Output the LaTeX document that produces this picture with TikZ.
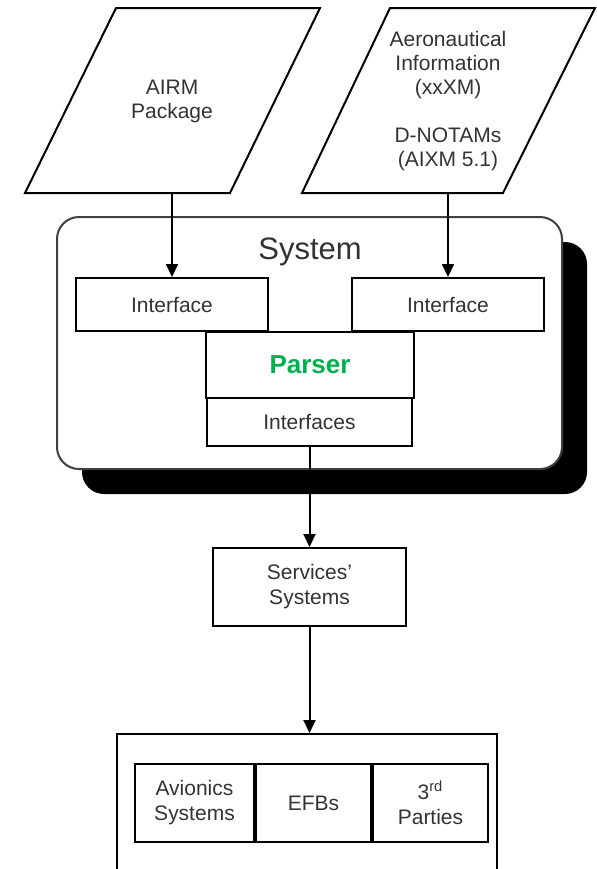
\documentclass[tikz,border=0pt]{standalone}
\usepackage{fontspec}
\setmainfont{Liberation Sans}
\usetikzlibrary{arrows.meta,positioning,shadows}
\definecolor{parsergreen}{RGB}{0,176,80}
\tikzstyle{box} = [draw, line width=1pt, fill=white, text=black!80, align=center, inner sep=0pt, font=\fontsize{10.5}{12.5}\selectfont]
\tikzstyle{txt} = [text=black!80, align=center, font=\fontsize{10.5}{12}\selectfont]
\tikzstyle{arrow} = [-{Triangle[length=6.5pt,width=6pt]}, line width=1pt]

\begin{document}
\begin{tikzpicture}[x=0.5pt,y=-0.5pt]
\clip (0,0) rectangle (597,869);
\fill[white] (0,0) rectangle (597,869);
% input data
\draw[line width=1pt] (25,193) -- (116,8) -- (320,8) -- (230,193) -- cycle;
\draw[line width=1pt] (302,193) -- (390,8) -- (595,8) -- (503,193) -- cycle;
\node[txt] (airm) at (172,101) {AIRM\\Package};
\node[txt] (aero) at (448,101) {Aeronautical\\Information\\(xxXM)\\[12pt]D-NOTAMs\\(AIXM 5.1)};
\coordinate (airm-out) at (172,193);
\coordinate (aero-out) at (448,193);
% system block with its shadow
\node[draw=black!75, line width=1pt, fill=white, rounded corners=11pt, minimum width=252.5pt, minimum height=126pt,
  drop shadow={shadow xshift=12.5pt, shadow yshift=-12.5pt, fill=black, opacity=1}] (system) at (309.5,343) {};
\node[txt, anchor=base, font=\fontsize{15.5}{18}\selectfont] (systitle) at (310,259) {System};
\node[box, minimum width=96pt, minimum height=26.5pt] (ifl) at (172,304.5) {Interface};
\node[box, minimum width=96pt, minimum height=26.5pt] (ifr) at (448,304.5) {Interface};
\node[box, minimum width=104pt, minimum height=33pt, text=parsergreen, font=\bfseries\fontsize{13}{15}\selectfont] (parser) at (310,365) {Parser};
\node[box, minimum width=102.5pt, minimum height=24pt] (ifs) at (309.5,422) {Interfaces};
% services and users
\node[box, minimum width=96.5pt, minimum height=39pt] (svc) at (309.5,587) {Services'\\Systems};
\node[draw, line width=1pt, minimum width=190pt, minimum height=83pt] (users) at (307,817) {};
\node[box, minimum width=59.5pt, minimum height=39pt] (avio) at (194.5,803) {Avionics\\Systems};
\node[box, minimum width=57.5pt, minimum height=39pt, right=0pt of avio] (efb) {EFBs};
\node[box, minimum width=57.5pt, minimum height=39pt, right=0pt of efb] (third) {3\textsuperscript{rd}\\Parties};
% connections
\draw[arrow] (airm-out) -- (ifl.north);
\draw[arrow] (aero-out) -- (ifr.north);
\draw[arrow] (ifs.south) -- (svc.north);
\draw[arrow] (svc.south) -- (users.north -| svc.south);
\end{tikzpicture}
\end{document}
